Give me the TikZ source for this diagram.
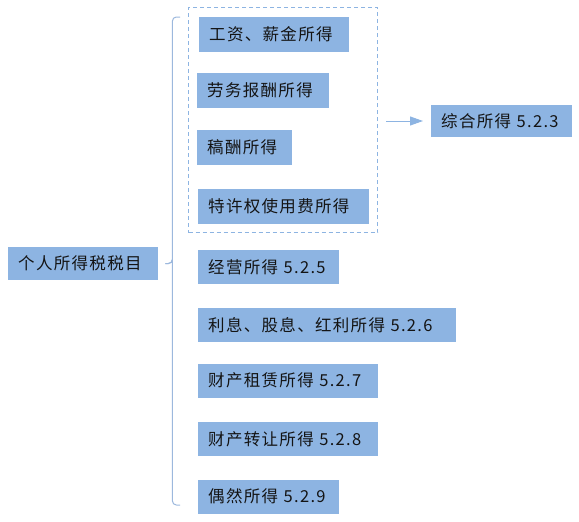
\documentclass[tikz,border=0pt]{standalone}
\usepackage{fontspec}
\usepackage{xcolor}
\usepackage{tikz}
\usetikzlibrary{arrows.meta,fit}
\newfontfamily\cjk[LetterSpace=8]{Noto Sans CJK SC}
\definecolor{boxblue}{HTML}{8DB4E2}
\definecolor{linkblue}{HTML}{9CB8DD}

\begin{document}
\begin{tikzpicture}[
    x=1pt, y=-1pt,
    font=\cjk\fontsize{16.5}{19}\selectfont,
    item/.style={fill=boxblue, anchor=west, align=left, inner xsep=10pt,
      inner ysep=0pt, minimum height=35pt, text=black!92},
    grp/.style={draw=boxblue, line width=1pt, dash pattern=on 4pt off 3pt, inner sep=8.5pt},
    brc/.style={draw=linkblue, line width=1pt, rounded corners=4pt},
    arr/.style={-{Triangle[length=13pt, width=9pt]}, draw=boxblue, fill=boxblue, line width=1pt}]

  \useasboundingbox (0,0) rectangle (579,522);

  \node[item, minimum height=33pt, text width=130pt] (root) at (8,263.5) {个人所得税税目};

  % grouped items
  \node[item, text width=130pt] (gz) at (199,34) {工资、薪金所得};
  \node[item, text width=112pt] (lw) at (197,90) {劳务报酬所得};
  \node[item, text width=75pt] (gc) at (197,147.5) {稿酬所得};
  \node[item, text width=151pt] (tx) at (198,206.5) {特许权使用费所得};
  \node[grp, fit=(gz)(lw)(gc)(tx)] (grp) {};

  \node[item, minimum height=32pt, text width=121pt] (zh) at (431,121) {综合所得 5.2.3};
  \draw[arr, shorten <=8pt, shorten >=8pt] (grp.east |- zh) -- (zh.west);

  \foreach \n/\y/\w/\t in {jy/267/121/{经营所得 5.2.5},
      lx/325/238/{利息、股息、红利所得 5.2.6},
      zl/380.5/160/{财产租赁所得 5.2.7},
      zr/439/160/{财产转让所得 5.2.8},
      or/496.5/121/{偶然所得 5.2.9}}
    \node[item, minimum height=34pt, text width=\w pt] (\n) at (198,\y) {\t};

  % brace
  \coordinate (nub) at ([xshift=7pt]root.east);
  \draw[brc] (180,17) -| ([xshift=7pt]nub) |- (nub);
  \draw[brc] (180,505) -| ([xshift=7pt]nub) |- (nub);
\end{tikzpicture}
\end{document}
